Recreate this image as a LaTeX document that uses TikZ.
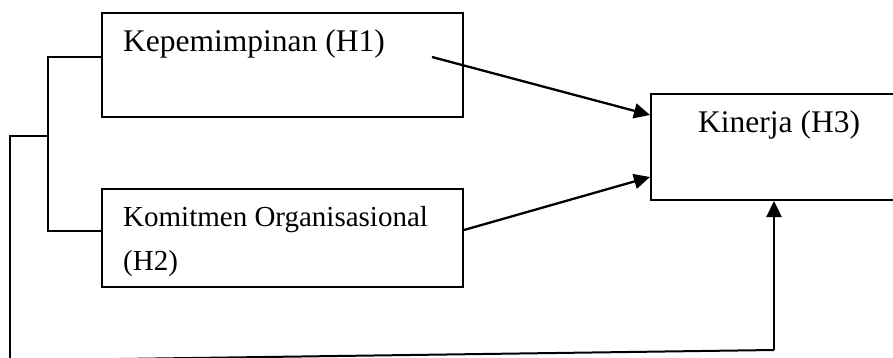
\documentclass[tikz,border=0pt]{standalone}
\usepackage{fontspec}
\setmainfont{Liberation Serif}
\usetikzlibrary{arrows.meta}
\begin{document}
\begin{tikzpicture}[x=1pt,y=-1pt,
  boxstyle/.style={draw,line width=2pt,rectangle,inner sep=0pt,anchor=north west},
  txt/.style={inner sep=0pt,anchor=base west},
  conn/.style={line width=2.3pt,-{Triangle[length=16pt,width=15pt]}},
  brack/.style={line width=1.6pt}]
\useasboundingbox (0,0) rectangle (893,358);
\clip (0,0) rectangle (893,358);
\node[boxstyle,minimum width=361pt,minimum height=104pt] (h1) at (101,12) {};
\node[boxstyle,minimum width=361pt,minimum height=98pt] (h2) at (101,188) {};
\node[boxstyle,minimum width=260pt,minimum height=106pt] (h3) at (650,93) {};
\node[txt,font=\fontsize{31.5}{36}\selectfont] (t1) at (123,52) {Kepemimpinan (H1)};
\node[txt,font=\fontsize{29}{34}\selectfont] (t2a) at (123,226) {Komitmen Organisasional};
\node[txt,font=\fontsize{29}{34}\selectfont] (t2b) at (123,270) {(H2)};
\node[txt,font=\fontsize{31.5}{36}\selectfont] (t3) at (698,133) {Kinerja (H3)};
% bracket
\coordinate (bt) at (48,57);
\coordinate (bb) at (48,231);
\coordinate (bm) at (48,136);
\coordinate (lm) at (10,136);
\coordinate (lb) at (10,360.5);
\coordinate (rb) at (774,350);
\draw[brack] (h1.west |- bt) -- (bt) -- (bb) -- (h2.west |- bb);
\draw[brack] (bm) -- (lm) -- (lb);
\draw[line width=2pt] (lb) -- (rb);
\draw[conn] (rb) -- (rb |- h3.south);
% arrows
\coordinate (a1s) at (432,57);
\draw[conn] (a1s) -- (h3.west |- 0,115);
\draw[conn] (h2.east |- 0,230) -- (h3.west |- 0,177);
\end{tikzpicture}
\end{document}
